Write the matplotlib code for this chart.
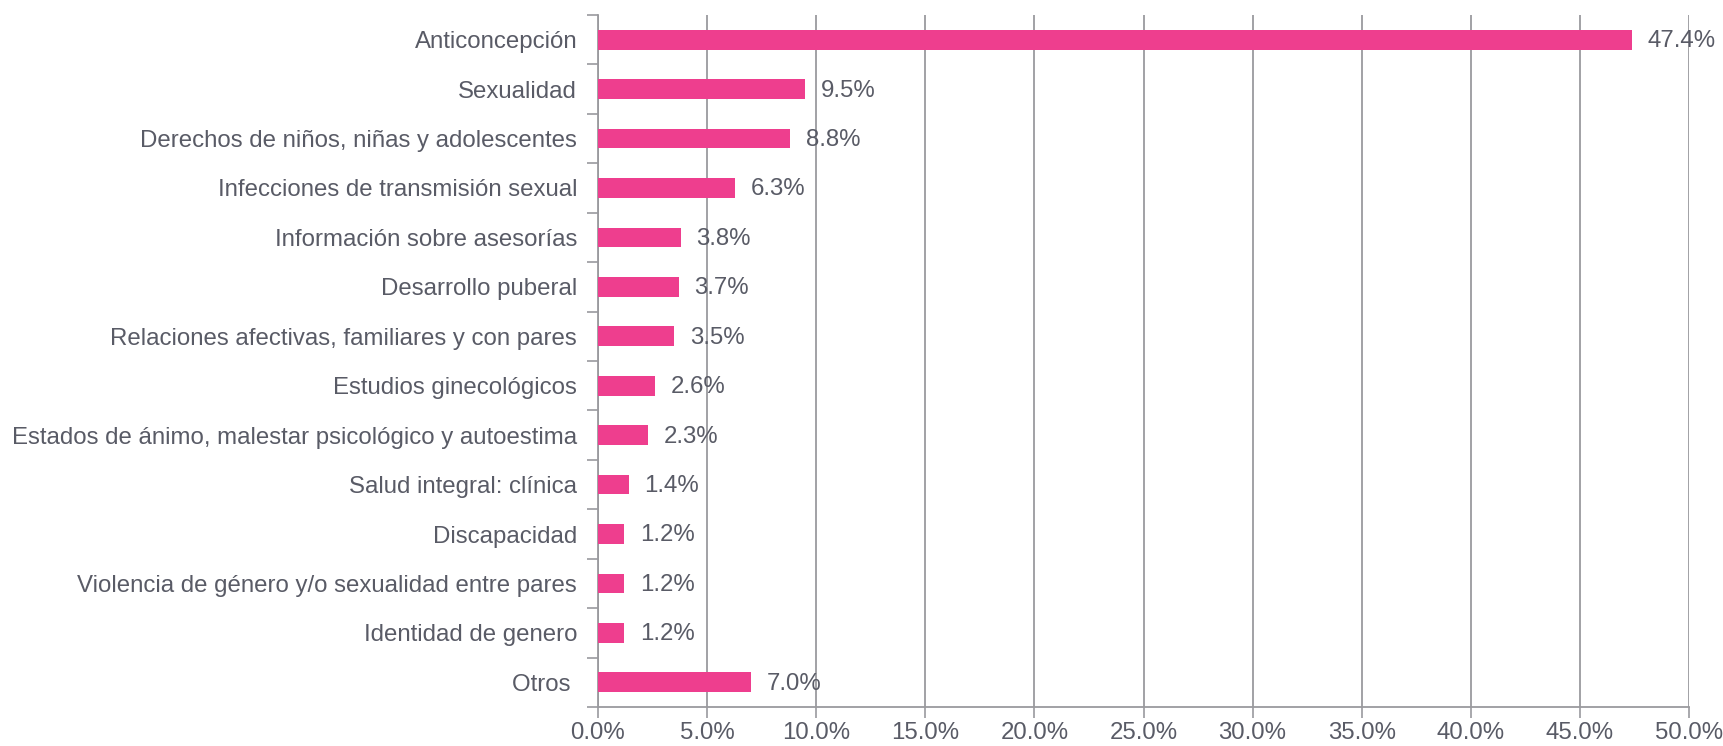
import numpy as np
import matplotlib.pyplot as plt
from matplotlib.ticker import FuncFormatter

plt.rcParams['font.family'] = ['Liberation Sans', 'DejaVu Sans']

categories = ['Anticoncepción', 'Sexualidad', 'Derechos de niños, niñas y adolescentes',
              'Infecciones de transmisión sexual', 'Información sobre asesorías',
              'Desarrollo puberal', 'Relaciones afectivas, familiares y con pares',
              'Estudios ginecológicos',
              'Estados de ánimo, malestar psicológico y autoestima',
              'Salud integral: clínica', 'Discapacidad',
              'Violencia de género y/o sexualidad entre pares',
              'Identidad de genero', 'Otros ']
values = [47.4, 9.5, 8.8, 6.3, 3.8, 3.7, 3.5, 2.6, 2.3, 1.4, 1.2, 1.2, 1.2, 7.0]

txt = '#595b66'
grid = '#9a9a9e'
pink = '#ee3e8e'
fs = 17.3

fig = plt.figure(figsize=(17.24, 7.46), dpi=100)
ax = fig.add_axes([598/1724, 39/746, (1689-598)/1724, (731-39)/746])

y = np.arange(len(categories))
ax.barh(y, values, height=0.4, color=pink, zorder=3)
for yi, v in zip(y, values):
    ax.text(v + 0.72, yi + 0.03, f'{v:.1f}%', va='center', ha='left', fontsize=fs, color=txt, zorder=4)

ax.set_ylim(len(categories) - 0.5, -0.5)
ax.set_xlim(0, 50)
ax.set_xticks(np.arange(0, 51, 5))
ax.xaxis.set_major_formatter(FuncFormatter(lambda x, p: f'{x:.1f}%'))
ax.set_yticks(y)
ax.set_yticklabels(categories)
ax.set_yticks(np.arange(-0.5, len(categories), 1), minor=True)

ax.tick_params(axis='y', which='major', length=0, pad=15, labelsize=fs, labelcolor=txt)
ax.tick_params(axis='y', which='minor', length=8, width=1.2, color=grid, direction='out')
ax.tick_params(axis='x', length=8, width=1.2, color=grid, pad=3, labelsize=fs, labelcolor=txt)

ax.grid(axis='x', color=grid, linewidth=1.3, zorder=1)
for s in ['top', 'right']:
    ax.spines[s].set_visible(False)
for s in ['left', 'bottom']:
    ax.spines[s].set_color(grid)
    ax.spines[s].set_linewidth(1.3)

fig.savefig('out.png', dpi=100)
